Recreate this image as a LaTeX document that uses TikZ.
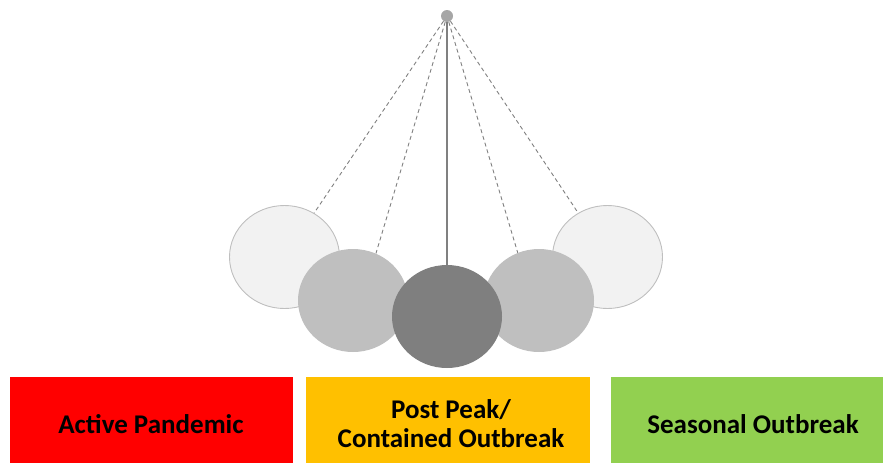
\documentclass[tikz,border=0pt]{standalone}
\usepackage{fontspec}
\newfontfamily\boxfont{Carlito}
\usetikzlibrary{shapes.geometric}
\definecolor{paleball}{HTML}{F2F2F2}
\definecolor{paleedge}{HTML}{BFBFBF}
\definecolor{midball}{HTML}{BFBFBF}
\definecolor{darkball}{HTML}{7F7F7F}
\definecolor{stringcol}{HTML}{808080}
\definecolor{pivotcol}{HTML}{A6A6A6}
\definecolor{redbox}{HTML}{FF0000}
\definecolor{yellowbox}{HTML}{FFC000}
\definecolor{greenbox}{HTML}{92D050}
\tikzset{
  ball/.style={ellipse, minimum width=110pt, minimum height=103pt, inner sep=0pt},
  paleball/.style={ball, fill=paleball, draw=paleedge, line width=0.9pt},
  midball/.style={ball, fill=midball},
  darkball/.style={ball, fill=darkball},
  dashstring/.style={draw=stringcol, line width=0.9pt, dash pattern=on 4pt off 3pt},
  solidstring/.style={draw=stringcol, line width=1.3pt},
  stagetext/.style={font=\boxfont\bfseries\fontsize{27}{29}\selectfont, align=center, text=black}
}
\begin{document}
\begin{tikzpicture}[x=1pt, y=-1pt]
\useasboundingbox (0,0) rectangle (883,463);
% pivot
\node[circle, fill=pivotcol, minimum size=12pt, inner sep=0pt] (pivot) at (447,16) {};
% balls (back to front)
\node[paleball] (b1) at (284.5,257) {};
\node[paleball] (b5) at (607.5,257) {};
\node[midball] (b2) at (353,300.5) {};
\node[midball] (b4) at (539,300.5) {};
\node[darkball] (b3) at (447,316.5) {};
% strings
\draw[dashstring] (pivot) -- (b1);
\draw[dashstring] (pivot) -- (b2.64);
\draw[dashstring] (pivot) -- (b4.114);
\draw[dashstring] (pivot) -- (b5);
\draw[solidstring] (pivot) -- (b3);
% stage boxes
\fill[redbox] (10,377) rectangle (293,463);
\fill[yellowbox] (306,377) rectangle (590,463);
\fill[greenbox] (611,377) rectangle (883,463);
\node[stagetext] (t1) at (151,424) {Active Pandemic};
\node[stagetext] (t2) at (451,424) {Post Peak/\\Contained Outbreak};
\node[stagetext] (t3) at (753,424) {Seasonal Outbreak};
\end{tikzpicture}
\end{document}
